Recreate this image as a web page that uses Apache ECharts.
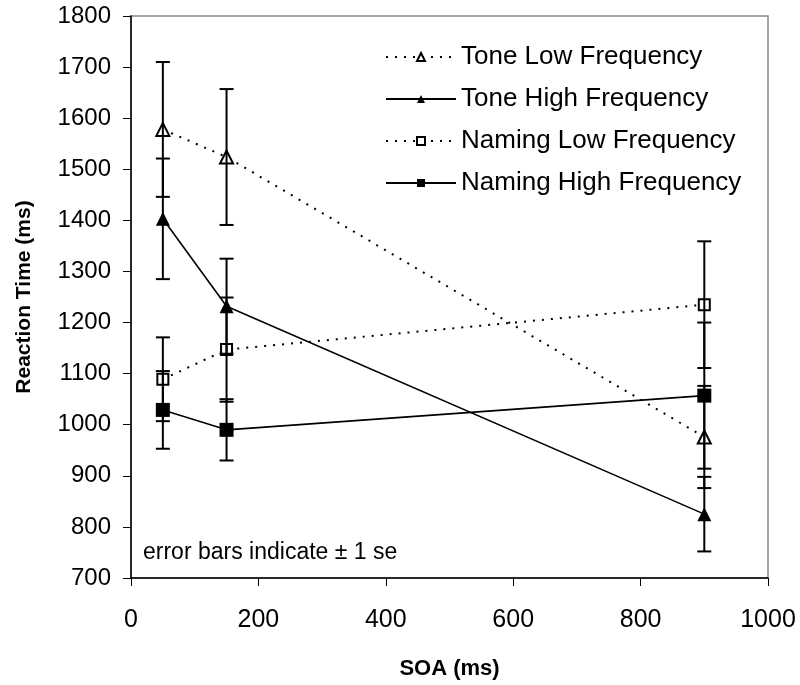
<!DOCTYPE html>
<html>
<head>
<meta charset="utf-8">
<script src="https://cdn.jsdelivr.net/npm/echarts@6/dist/echarts.min.js"></script>
<style>
  html, body { margin: 0; padding: 0; background: #fff; }
  #chart { width: 800px; height: 685px; }
</style>
</head>
<body>
<div id="chart"></div>
<script>
const soa = [50, 150, 900]

const toneLow = [1578, 1524, 976]
const toneLowErr = [132, 133, 100]
const toneHigh = [1403, 1232, 825]
const toneHighErr = [118, 93, 73]
const namingLow = [1089, 1147, 1235]
const namingLowErr = [82, 102, 124]
const namingHigh = [1029, 990, 1057]
const namingHighErr = [76, 60, 143]

const FONT = 'Liberation Sans, Arial, sans-serif'

function lineSeries(name, values, dotted, symbol, hollow, size) {
  return {
    name,
    type: 'line',
    data: soa.map((x, i) => [x, values[i]]),
    symbol,
    symbolSize: size,
    z: 3,
    lineStyle: { color: '#000', width: dotted ? 2 : 1.6, type: dotted ? [2, 7] : 'solid' },
    itemStyle: { color: hollow ? '#fff' : '#000', borderColor: '#000', borderWidth: hollow ? 2 : 0 },
    emphasis: { disabled: true },
  }
}

function errorSeries(values, errs) {
  return {
    type: 'custom',
    z: 4,
    silent: true,
    data: soa.map((x, i) => [x, values[i], errs[i]]),
    renderItem(params, api) {
      const x = api.value(0), y = api.value(1), e = api.value(2)
      const top = api.coord([x, y + e])
      const bot = api.coord([x, y - e])
      const half = 7
      const style = { stroke: '#000', lineWidth: 2 }
      return {
        type: 'group',
        children: [
          { type: 'line', shape: { x1: top[0], y1: top[1], x2: bot[0], y2: bot[1] }, style },
          { type: 'line', shape: { x1: top[0] - half, y1: top[1], x2: top[0] + half, y2: top[1] }, style },
          { type: 'line', shape: { x1: bot[0] - half, y1: bot[1], x2: bot[0] + half, y2: bot[1] }, style },
        ],
      }
    },
  }
}

const chart = echarts.init(document.getElementById('chart'))
chart.setOption({
  animation: false,
  grid: { left: 131, right: 32, top: 16, bottom: 107, show: true, borderColor: '#888', borderWidth: 1.5 },
  legend: {
    left: 380, top: 39,
    orient: 'vertical',
    itemWidth: 70, itemHeight: 10, itemGap: 16,
    textStyle: { fontFamily: FONT, fontSize: 26, color: '#000' },
    data: ['Tone Low Frequency', 'Tone High Frequency', 'Naming Low Frequency', 'Naming High Frequency'],
  },
  xAxis: {
    type: 'value', min: 0, max: 1000, interval: 200,
    name: 'SOA (ms)', nameLocation: 'middle', nameGap: 80,
    nameTextStyle: { fontFamily: FONT, fontSize: 22, fontWeight: 'bold', color: '#000' },
    axisLine: { lineStyle: { color: '#000', width: 1.5 } },
    axisTick: { show: true, length: 8, lineStyle: { color: '#000' } },
    axisLabel: { fontFamily: FONT, fontSize: 25, color: '#000', margin: 30, formatter: v => String(v) },
    splitLine: { show: false },
  },
  yAxis: {
    type: 'value', min: 700, max: 1800, interval: 100,
    name: 'Reaction Time (ms)', nameLocation: 'middle', nameGap: 96, nameRotate: 90,
    nameTextStyle: { fontFamily: FONT, fontSize: 21, fontWeight: 'bold', color: '#000' },
    axisLine: { show: true, lineStyle: { color: '#000', width: 1.5 } },
    axisTick: { show: true, length: 8, lineStyle: { color: '#000' } },
    axisLabel: { fontFamily: FONT, fontSize: 24, color: '#000', margin: 20, formatter: v => String(v) },
    splitLine: { show: false },
  },
  graphic: [{
    type: 'text', left: 143, top: 541,
    style: { text: 'error bars indicate \u00b1 1 se', font: '23px ' + FONT, fill: '#000' },
  }],
  series: [
    lineSeries('Tone Low Frequency', toneLow, true, 'triangle', true, 13),
    lineSeries('Tone High Frequency', toneHigh, false, 'triangle', false, 14),
    lineSeries('Naming Low Frequency', namingLow, true, 'rect', true, 11),
    lineSeries('Naming High Frequency', namingHigh, false, 'rect', false, 14),
    errorSeries(toneLow, toneLowErr),
    errorSeries(toneHigh, toneHighErr),
    errorSeries(namingLow, namingLowErr),
    errorSeries(namingHigh, namingHighErr),
  ],
})
</script>
</body>
</html>
